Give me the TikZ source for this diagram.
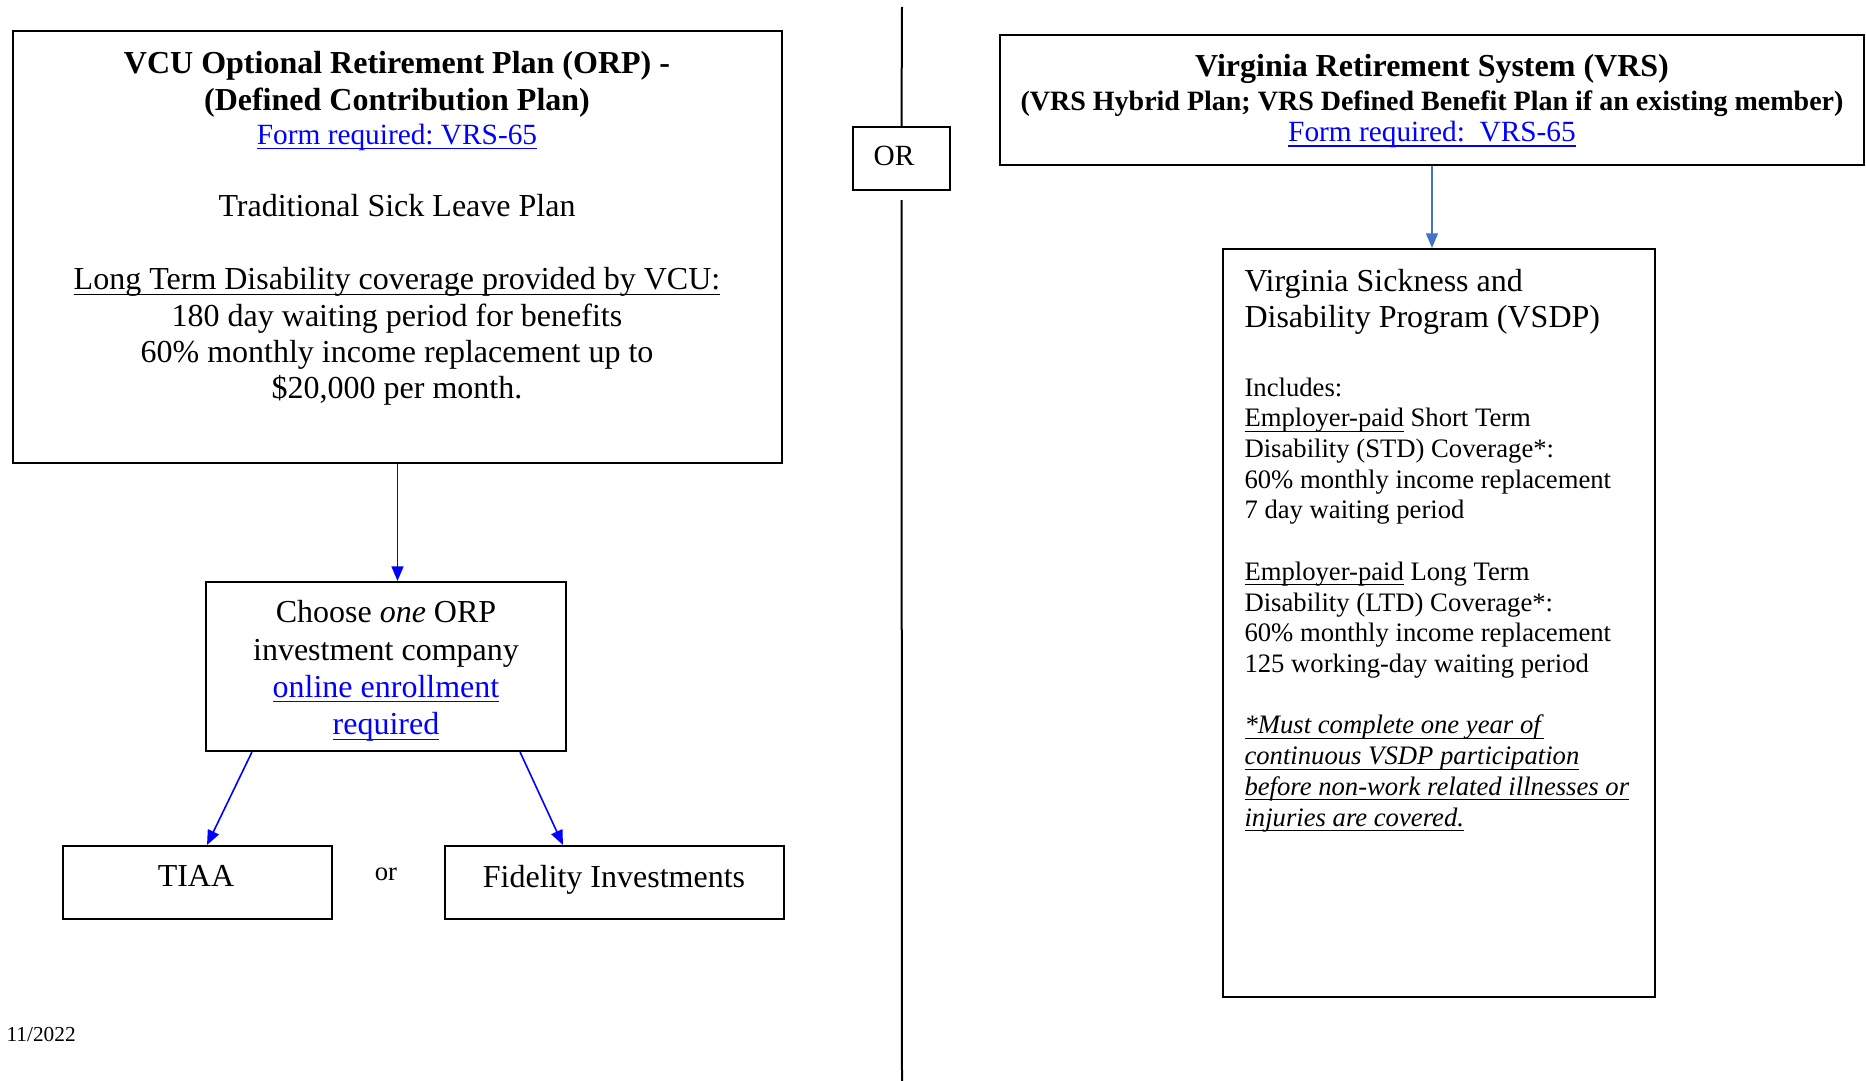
\documentclass[tikz,border=0pt]{standalone}
\usepackage{fontspec}
\setmainfont{Liberation Serif}
\usepackage{tikz}
\usetikzlibrary{arrows.meta}
\definecolor{linkblue}{HTML}{0000FF}
\definecolor{steel}{HTML}{4472C4}
\tikzstyle{caja}=[draw,line width=0.75pt,inner sep=0pt]
\tikzstyle{texto}=[inner sep=0pt]
\tikzstyle{flecha}=[draw=linkblue,line width=0.6pt,-{Triangle[length=5.5pt,width=4.5pt]}]
\newsavebox{\subrbox}
\newcommand{\subr}[1]{\leavevmode\sbox{\subrbox}{#1}\rlap{\rule[-1.9pt]{\wd\subrbox}{0.45pt}}\usebox{\subrbox}}
\newcommand{\enlace}[1]{\textcolor{linkblue}{\subr{#1}}}
\frenchspacing

\begin{document}
\begin{tikzpicture}[x=0.375pt,y=-0.375pt]
    \useasboundingbox (0,0) rectangle (1866,1081);
    % left side
    \node [caja,minimum width=288.4pt,minimum height=162pt] (orp) at (397.5,247) {};
    \node [texto,anchor=north,align=center,font=\fontsize{12}{13.65}\selectfont] (orptxt) at (397,51)
        {\textbf{VCU Optional Retirement Plan (ORP) -}\\
         \textbf{(Defined Contribution Plan)}\\[-0.9pt]
         \fontsize{11}{13}\selectfont\enlace{Form required: VRS-65}\\[13.65pt]
         Traditional Sick Leave Plan\\[13.65pt]
         \subr{Long Term Disability coverage provided by VCU:}\\
         180 day waiting period for benefits\\
         60\% monthly income replacement up to\\
         \$20,000 per month.};
    \node [caja,minimum width=135pt,minimum height=63.4pt] (choose) at (386,666.5) {};
    \node [texto,anchor=north,align=center,font=\fontsize{12}{14}\selectfont] (choosetxt) at (386,600)
        {Choose \textit{one} ORP\\
         investment company\\
         \enlace{online enrollment}\\
         \enlace{required}};
    \node [caja,minimum width=100.9pt,minimum height=27.4pt] (tiaa) at (197.5,882.5) {};
    \node [texto,font=\fontsize{12}{14}\selectfont] (tiaatxt) at (196,876) {TIAA};
    \node [caja,minimum width=127.1pt,minimum height=27.4pt] (fidelity) at (614.5,882.5) {};
    \node [texto,font=\fontsize{12}{14}\selectfont,anchor=base] (fidelitytxt) at (614,887.5) {Fidelity Investments};
    \node [texto,font=\fontsize{10}{12}\selectfont] (or) at (386,874) {or};
    \node [texto,anchor=west,font=\fontsize{8}{10}\selectfont] (fecha) at (6,1035) {11/2022};
    \draw [flecha] (orp.south) -- (orp.south |- choose.north);
    \draw [flecha] ([xshift=17.6pt]choose.south west) -- ([xshift=54.4pt]tiaa.north west);
    \draw [flecha] ([xshift=-17.6pt]choose.south east) -- ([xshift=44.6pt]fidelity.north west);
    % separator
    \coordinate (top) at (902,7);
    \coordinate (bottom) at (902,1081);
    \node [caja,minimum width=36.4pt,minimum height=23.6pt] (orbox) at (901.5,158.5) {};
    \node [texto,font=\fontsize{11}{13}\selectfont] (ortxt) at (894,156) {OR};
    \draw [line width=0.75pt] (top) -- (orbox.north);
    \draw [line width=0.75pt] ([yshift=-3.4pt]orbox.south) -- (bottom);
    % right side
    \node [caja,minimum width=324pt,minimum height=48.75pt] (vrs) at (1432,100) {};
    \node [texto,anchor=north,align=center,font=\fontsize{12}{12.9}\selectfont] (vrstxt) at (1432,53.5)
        {\textbf{Virginia Retirement System (VRS)}\\
         \fontsize{10.5}{12}\selectfont\textbf{(VRS Hybrid Plan; VRS Defined Benefit Plan if an existing member)}\\[-1.3pt]
         \fontsize{11}{13}\selectfont\enlace{Form required:\ \ VRS-65}};
    \node [caja,minimum width=162pt,minimum height=280.5pt] (vsdp) at (1439,623) {};
    \node [texto,anchor=north west,align=left,font=\fontsize{12}{13.5}\selectfont] (vsdptitle) at (1244,269)
        {Virginia Sickness and\\
         Disability Program (VSDP)};
    \node [texto,anchor=north west,align=left,font=\fontsize{10}{11.52}\selectfont] (vsdptxt) at (1244,377)
        {Includes:\\
         \subr{Employer-paid} Short Term\\
         Disability (STD) Coverage*:\\
         60\% monthly income replacement\\
         7 day waiting period\\[11.52pt]
         \subr{Employer-paid} Long Term\\
         Disability (LTD) Coverage*:\\
         60\% monthly income replacement\\
         125 working-day waiting period\\[11.52pt]
         \subr{\textit{*Must complete one year of}}\\
         \subr{\textit{continuous VSDP participation}}\\
         \subr{\textit{before non-work related illnesses or}}\\
         \subr{\textit{injuries are covered.}}};
    \draw [flecha,draw=steel] (vrs.south) -- (vrs.south |- vsdp.north);
\end{tikzpicture}
\end{document}
